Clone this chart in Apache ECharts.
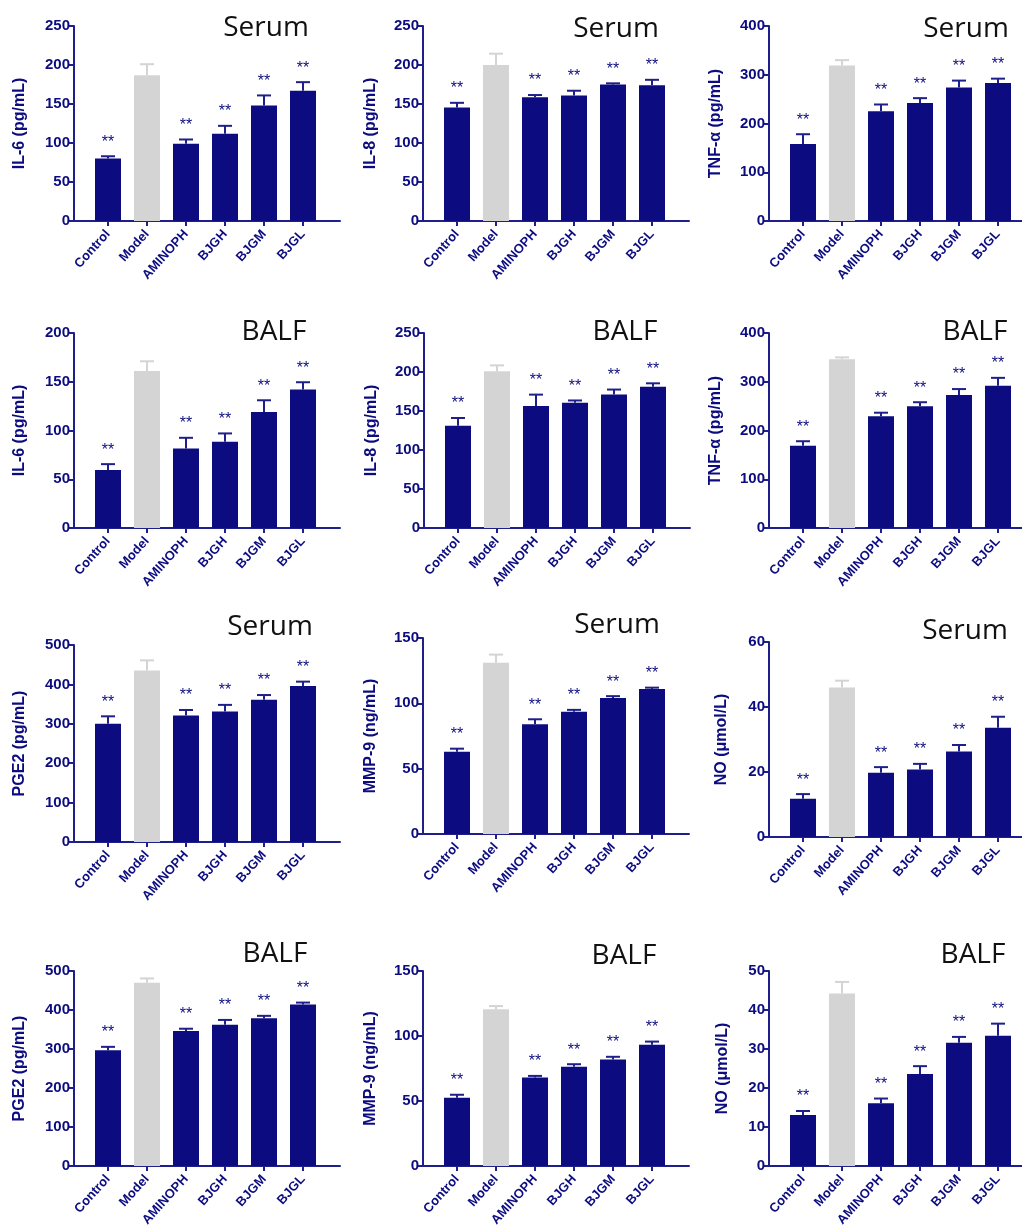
<!DOCTYPE html>
<html>
<head>
<meta charset="utf-8">
<script src="https://cdn.jsdelivr.net/npm/echarts@6/dist/echarts.min.js"></script>
<style>
html,body{margin:0;padding:0;background:#fff;}
#c{width:1022px;height:1225px;}
</style>
</head>
<body>
<div id="c"></div>
<script>
// ---------- DATA ----------
const categories = ['Control', 'Model', 'AMINOPH', 'BJGH', 'BJGM', 'BJGL'];
const significance = ['**', '', '**', '**', '**', '**'];

const il6SerumMean  = [80, 187, 99, 112, 148, 167];
const il6SerumErr   = [3, 14, 5.5, 10, 13, 11];
const il8SerumMean  = [145.5, 200, 158.5, 161, 175, 174];
const il8SerumErr   = [6, 14.5, 3, 6, 1.5, 7];
const tnfSerumMean  = [158, 319, 225, 242, 274, 283];
const tnfSerumErr   = [20, 11, 14, 10, 14, 9];

const il6BalfMean   = [59.5, 161, 81.5, 88.5, 119, 142];
const il6BalfErr    = [6, 10, 11, 8.5, 12, 7.5];
const il8BalfMean   = [131, 201, 156.5, 160.5, 171, 181];
const il8BalfErr    = [10, 7.5, 14.5, 3, 6.5, 4.5];
const tnfBalfMean   = [168.5, 346, 229, 250, 273, 292];
const tnfBalfErr    = [9.5, 4, 7.5, 8, 12, 16];

const pge2SerumMean = [300, 435, 321, 331, 361, 396];
const pge2SerumErr  = [19, 26, 14, 17, 12, 11];
const mmp9SerumMean = [63, 131, 84, 93.5, 104, 111];
const mmp9SerumErr  = [2.3, 6.3, 3.8, 1.5, 1.5, 1];
const noSerumMean   = [11.8, 46, 19.8, 20.8, 26.3, 33.6];
const noSerumErr    = [1.4, 2.1, 1.7, 1.7, 2, 3.4];

const pge2BalfMean  = [297, 470, 346, 362, 379, 414];
const pge2BalfErr   = [8.5, 11, 6, 12.5, 6, 5];
const mmp9BalfMean  = [52.5, 120.5, 68, 76.3, 82, 93.2];
const mmp9BalfErr   = [2.3, 2.5, 1.3, 2, 2, 2.5];
const noBalfMean    = [13.1, 44.2, 16.1, 23.6, 31.6, 33.4];
const noBalfErr     = [1, 3, 1.2, 2, 1.5, 3.1];

const yAxisNames = ['IL-6 (pg/mL)', 'IL-8 (pg/mL)', 'TNF-α (pg/mL)',
                    'IL-6 (pg/mL)', 'IL-8 (pg/mL)', 'TNF-α (pg/mL)',
                    'PGE2 (pg/mL)', 'MMP-9 (ng/mL)', 'NO (μmol/L)',
                    'PGE2 (pg/mL)', 'MMP-9 (ng/mL)', 'NO (μmol/L)'];
const panelTitles = ['Serum', 'Serum', 'Serum', 'BALF', 'BALF', 'BALF',
                     'Serum', 'Serum', 'Serum', 'BALF', 'BALF', 'BALF'];
const yMax      = [250, 250, 400, 200, 250, 400, 500, 150, 60, 500, 150, 50];
const yInterval = [50, 50, 100, 50, 50, 100, 100, 50, 20, 100, 50, 10];

const panelMeans = [il6SerumMean, il8SerumMean, tnfSerumMean, il6BalfMean, il8BalfMean, tnfBalfMean,
                    pge2SerumMean, mmp9SerumMean, noSerumMean, pge2BalfMean, mmp9BalfMean, noBalfMean];
const panelErrs  = [il6SerumErr, il8SerumErr, tnfSerumErr, il6BalfErr, il8BalfErr, tnfBalfErr,
                    pge2SerumErr, mmp9SerumErr, noSerumErr, pge2BalfErr, mmp9BalfErr, noBalfErr];

// ---------- LAYOUT (pixels) ----------
const layout = [
  {axisX: 74,  top: 26,  bottom: 221, tx: 266, ty: 26,  gap: 46},
  {axisX: 423, top: 26,  bottom: 221, tx: 616, ty: 27,  gap: 44},
  {axisX: 769, top: 26,  bottom: 221, tx: 966, ty: 27,  gap: 45},
  {axisX: 74,  top: 333, bottom: 528, tx: 274, ty: 330, gap: 46},
  {axisX: 424, top: 333, bottom: 528, tx: 625, ty: 330, gap: 44},
  {axisX: 769, top: 333, bottom: 528, tx: 975, ty: 330, gap: 45},
  {axisX: 74,  top: 645, bottom: 842, tx: 270, ty: 625, gap: 46},
  {axisX: 423, top: 638, bottom: 834, tx: 617, ty: 623, gap: 44},
  {axisX: 769, top: 642, bottom: 837, tx: 965, ty: 629, gap: 39},
  {axisX: 74,  top: 971, bottom: 1166, tx: 275, ty: 952, gap: 46},
  {axisX: 423, top: 971, bottom: 1166, tx: 624, ty: 954, gap: 44},
  {axisX: 769, top: 971, bottom: 1166, tx: 973, ty: 953, gap: 38}
];

const NAVY = '#0c0c80';
const AXIS = '#1f1f8c';
const GREY = '#d4d4d4';
const MODEL_INDEX = categories.indexOf('Model');
const BAND = 39, LEAD = 14.5, FRAME_W = 266;

const grids = [], xAxes = [], yAxes = [], series = [], titles = [];

layout.forEach((L, p) => {
  const h = L.bottom - L.top;
  grids.push({left: L.axisX + LEAD, top: L.top, width: BAND * categories.length, height: h, outerBoundsMode: 'none'});
  grids.push({left: L.axisX, top: L.top, width: FRAME_W, height: h, outerBoundsMode: 'none'});

  xAxes.push({
    type: 'category', gridIndex: 2 * p, data: categories,
    axisLine: {show: false},
    axisTick: {show: true, alignWithLabel: true, length: 5, lineStyle: {color: AXIS, width: 2}},
    axisLabel: {interval: 0, rotate: 48, margin: 11, color: NAVY,
                fontFamily: 'Liberation Sans', fontWeight: 'bold', fontSize: 13}
  });
  xAxes.push({
    type: 'value', gridIndex: 2 * p + 1, min: 0, max: 1,
    axisLine: {show: true, lineStyle: {color: AXIS, width: 2}},
    axisTick: {show: false}, axisLabel: {show: false}, splitLine: {show: false}
  });
  yAxes.push({type: 'value', gridIndex: 2 * p, min: 0, max: yMax[p], interval: yInterval[p], show: false});
  yAxes.push({
    type: 'value', gridIndex: 2 * p + 1, min: 0, max: yMax[p], interval: yInterval[p],
    name: yAxisNames[p], nameLocation: 'middle', nameGap: L.gap,
    nameTextStyle: {color: NAVY, fontFamily: 'Liberation Sans', fontWeight: 'bold', fontSize: 16},
    axisLine: {show: true, lineStyle: {color: AXIS, width: 2}},
    axisTick: {show: true, length: 5, lineStyle: {color: AXIS, width: 2}},
    axisLabel: {color: NAVY, fontFamily: 'Liberation Sans', fontWeight: 'bold', fontSize: 15, margin: 4},
    splitLine: {show: false}
  });

  const means = panelMeans[p], errs = panelErrs[p];
  series.push({
    type: 'bar', xAxisIndex: 2 * p, yAxisIndex: 2 * p, barWidth: 26,
    data: means.map((m, i) => ({value: m, itemStyle: {color: i === MODEL_INDEX ? GREY : NAVY}})),
    silent: true, animation: false
  });
  series.push({
    type: 'custom', xAxisIndex: 2 * p, yAxisIndex: 2 * p, animation: false, silent: true, z: 3,
    data: means.map((m, i) => [i, m, errs[i]]),
    encode: {x: 0, y: 1},
    renderItem: function (params, api) {
      const i = api.value(0), v = api.value(1), e = api.value(2);
      const base = api.coord([i, v]);
      const tip = api.coord([i, v + e]);
      const col = i === MODEL_INDEX ? GREY : AXIS;
      const children = [
        {type: 'line', shape: {x1: base[0], y1: base[1], x2: tip[0], y2: tip[1]}, style: {stroke: col, lineWidth: 2}},
        {type: 'line', shape: {x1: tip[0] - 7, y1: tip[1], x2: tip[0] + 7, y2: tip[1]}, style: {stroke: col, lineWidth: 2}}
      ];
      if (significance[i]) {
        children.push({type: 'text', x: tip[0], y: tip[1] - 14,
          style: {text: significance[i], fill: NAVY, font: '16px "Liberation Sans"', align: 'center', verticalAlign: 'middle'}});
      }
      return {type: 'group', children: children};
    }
  });

  titles.push({
    text: panelTitles[p], left: L.tx, top: L.ty - 12, textAlign: 'center', padding: 0,
    textStyle: {color: '#111', fontFamily: 'Open Sans', fontWeight: 'normal', fontSize: 28}
  });
});

const chart = echarts.init(document.getElementById('c'), null, {renderer: 'canvas'});
chart.setOption({
  animation: false,
  backgroundColor: '#ffffff',
  title: titles,
  grid: grids,
  xAxis: xAxes,
  yAxis: yAxes,
  series: series
});
</script>
</body>
</html>
